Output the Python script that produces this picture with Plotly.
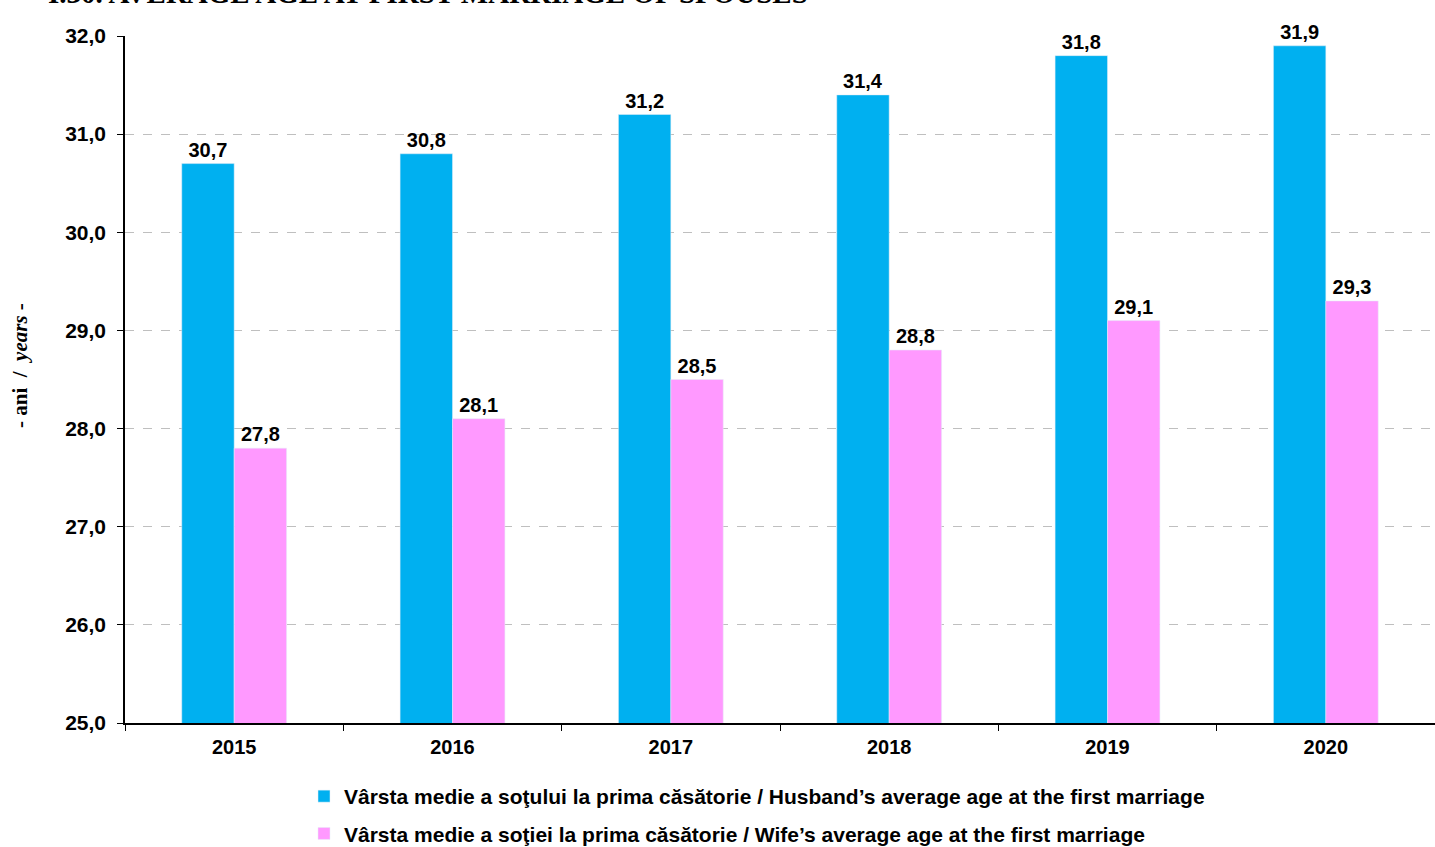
import plotly.graph_objects as go

years = ["2015", "2016", "2017", "2018", "2019", "2020"]
husband = [30.7, 30.8, 31.2, 31.4, 31.8, 31.9]
wife = [27.8, 28.1, 28.5, 28.8, 29.1, 29.3]
name_h = "Vârsta medie a soţului la prima căsătorie / Husband’s average age at the first marriage"
name_w = "Vârsta medie a soţiei la prima căsătorie / Wife’s average age at the first marriage"
yticks = [25, 26, 27, 28, 29, 30, 31, 32]

lab_font = dict(family="Liberation Sans, Arial", size=20, color="black", weight="bold")

fig = go.Figure()
fig.add_trace(go.Bar(x=years, y=husband, name=name_h, marker_color="#00B0F0",
                     texttemplate="%{y:.1f}", textposition="outside", constraintext="none",
                     textfont=lab_font, cliponaxis=False, legendgroup="h"))
fig.add_trace(go.Bar(x=years, y=wife, name=name_w, marker_color="#FF99FF",
                     texttemplate="%{y:.1f}", textposition="outside", constraintext="none",
                     textfont=lab_font, cliponaxis=False, legendgroup="w"))

# body margin removed via post_script; plot area at x 125..1435, y 36..723
fig.update_layout(
    width=1435, height=847,
    margin=dict(l=125, r=0, t=36, b=124, autoexpand=False),
    paper_bgcolor="white", plot_bgcolor="white",
    separators=",.",
    barmode="group", bargap=0.52, bargroupgap=0,
    font=dict(family="Liberation Sans, Arial", size=20, color="black"),
    showlegend=True,
    legend=dict(x=(304 - 125) / 1310, y=-(53) / 687,
                xanchor="left", yanchor="top", orientation="v",
                traceorder="grouped", tracegroupgap=7,
                font=dict(size=21, weight="bold")),
    xaxis=dict(type="category", showline=True, linecolor="black", linewidth=1.5,
               ticks="outside", tickson="boundaries", ticklen=6, tickcolor="black",
               tickfont=dict(size=20, weight="bold"), tickangle=0, showgrid=False,
               ticklabelstandoff=5),
    yaxis=dict(range=[25, 32], tickvals=yticks, tickformat=".1f",
               showline=True, linecolor="black", linewidth=1.5,
               ticks="outside", ticklen=6, tickcolor="black",
               tickfont=dict(size=21, weight="bold"), ticklabelstandoff=7,
               showgrid=True, gridcolor="#BFBFBF", griddash="dash", gridwidth=1,
               zeroline=False),
)

fig.add_annotation(text="- ani  /  <i>years</i> -", textangle=-90,
                   xref="paper", yref="paper", x=(20 - 125) / 1310, y=(723 - 366) / 687,
                   xanchor="center", yanchor="middle", showarrow=False,
                   font=dict(family="Liberation Serif, Times New Roman", size=21, weight="bold"))

fig.add_annotation(text="I.30. AVERAGE AGE AT FIRST MARRIAGE OF SPOUSES",
                   xref="paper", yref="paper", x=(46 - 125) / 1310, y=1 + 43 / 687,
                   xanchor="left", yanchor="middle", showarrow=False,
                   font=dict(family="Liberation Serif, Times New Roman", size=29, weight="bold"))

fig.write_html("out.html", config={"displayModeBar": False},
               post_script="document.body.style.margin='0';")
